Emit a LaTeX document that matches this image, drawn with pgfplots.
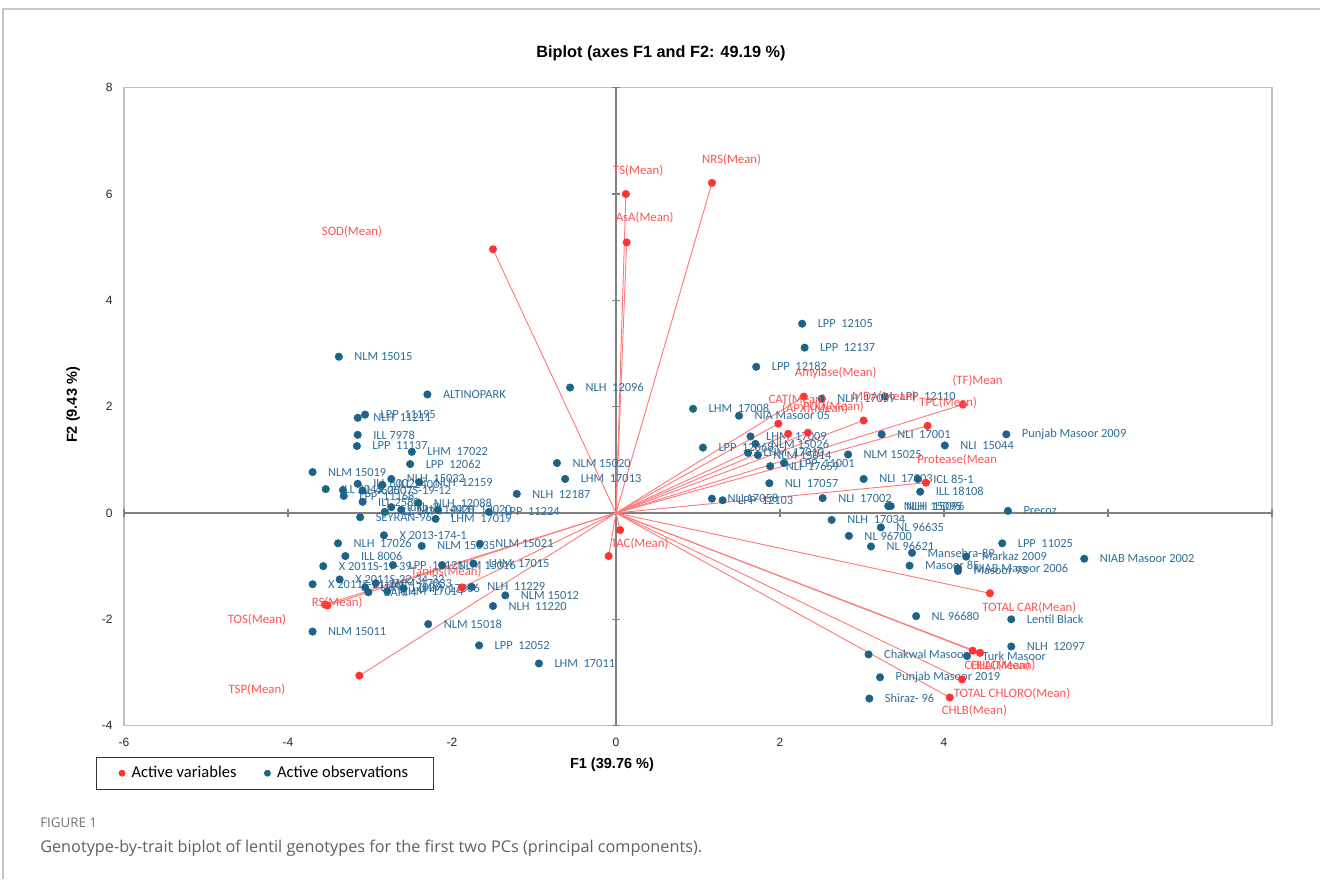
\documentclass[border=0pt]{standalone}
\usepackage{pgfplots}
\pgfplotsset{compat=1.18}
\usepackage{pgfplotstable}
\usepackage{fontspec}
\setmainfont{Liberation Sans}
\newfontfamily\carlito{Carlito}
\newfontfamily\opensans{Open Sans}
\definecolor{obsdot}{HTML}{1E6387}
\definecolor{obstext}{HTML}{2F6F98}
\definecolor{vardot}{HTML}{FF3333}
\definecolor{vartext}{HTML}{FF5252}
\definecolor{varline}{HTML}{FF7B7B}
\definecolor{axgray}{HTML}{808080}
\definecolor{boxgray}{HTML}{C0C0C0}

\pgfplotstableread[col sep=comma]{
o,x,y
0,-1.50,4.96
0,0.12,6.00
0,0.13,5.09
0,1.17,6.21
0,2.29,2.19
0,1.98,1.68
0,2.10,1.49
0,2.34,1.51
0,3.02,1.74
0,4.23,2.04
0,3.80,1.64
0,3.78,0.57
0,0.05,-0.32
0,-0.09,-0.81
0,-1.88,-1.40
0,-3.52,-1.74
0,-3.55,-1.72
0,-3.13,-3.06
0,4.56,-1.51
0,4.35,-2.59
0,4.44,-2.63
0,4.22,-3.13
0,4.07,-3.47
}\vars

\pgfplotstableread[col sep=comma]{
lx,ly,label
-3.22,5.30,SOD(Mean)
0.27,6.43,TS(Mean)
0.35,5.55,AsA(Mean)
1.41,6.64,NRS(Mean)
2.68,2.64,Amylase(Mean)
2.21,2.13,CAT(Mean)
2.43,1.96,(APX)(Mean)
2.65,2.00,POD(Mean)
3.27,2.19,MDA(Mean)
4.41,2.49,(TF)Mean
4.05,2.08,TPC(Mean)
4.16,1.00,Protease(Mean
0.29,-0.57,TAC(Mean)
-2.07,-1.11,Tanins(Mean)
-3.40,-1.68,RS(Mean)
-4.38,-2.00,TOS(Mean)
-4.38,-3.32,TSP(Mean)
5.04,-1.79,TOTAL CAR(Mean)
4.65,-2.87,CHLA(Mean)
4.72,-2.87,CHLC(Mean)
4.83,-3.40,TOTAL CHLORO(Mean)
4.37,-3.72,CHLB(Mean)
}\varlabels

\pgfplotstableread[col sep=comma]{
x,y,label
-3.38,2.94,NLM 15015
-2.30,2.23,ALTINOPARK
-3.06,1.85,LPP\space\space 11195
-3.15,1.79,NLH\space\space 11211
-3.15,1.47,ILL 7978
-3.16,1.26,LPP\space\space 11137
-2.49,1.15,LHM\space\space 17022
-2.51,0.92,LPP\space\space 12062
-3.70,0.77,NLM 15019
-3.54,0.45,ILL 2045
-3.33,0.43,ILL 4605
-3.32,0.32,LPP\space\space 11168
-3.09,0.42,X 2007S-19-12
-3.15,0.55,ILL 6002
-2.85,0.53,ILL 2400
-2.74,0.64,NLH\space\space 15032
-2.40,0.58,NLH\space\space 12159
-3.09,0.21,ILL 2580
-2.74,0.11,Idlib-2
-2.41,0.19,NLH\space\space 12088
-2.82,0.02,ILL 1494
-2.62,0.06,NLH\space\space 14020
-2.17,0.06,NLH\space\space 12020
-2.20,-0.11,LHM\space\space 17019
-1.55,0.02,LPP\space\space 11224
-3.12,-0.08,SEYRAN-96
-1.21,0.36,NLH\space\space 12187
-0.72,0.94,NLM 15020
-0.62,0.64,LHM\space\space 17013
-0.56,2.36,NLH\space\space 12096
-2.83,-0.42,X 2013-174-1
-3.39,-0.57,NLH\space\space 17026
-2.37,-0.62,NLM 15035
-1.66,-0.58,NLM 15021
-3.30,-0.81,ILL 8006
-3.57,-1.00,X 2011S-19-39
-2.72,-0.98,LPP\space\space 11121
-2.12,-0.98,NLM 15016
-1.74,-0.95,LHM\space\space 17015
-3.70,-1.34,X 2011S-21-26
-3.37,-1.25,X 2011S-22-34-32
-3.06,-1.40,LHM\space\space 17029
-3.02,-1.49,BARI 4
-2.93,-1.32,LHM\space\space 17033
-2.79,-1.47,LHM\space\space 17014
-2.59,-1.42,LHM\space\space 17006
-1.76,-1.39,NLH\space\space 11229
-1.35,-1.55,NLM 15012
-1.50,-1.75,NLH\space\space 11220
-2.29,-2.09,NLM 15018
-1.67,-2.49,LPP\space\space 12052
-0.94,-2.83,LHM\space\space 17011
-3.70,-2.23,NLM 15011
2.27,3.56,LPP\space\space 12105
2.30,3.11,LPP\space\space 12137
1.71,2.75,LPP\space\space 12182
2.51,2.15,NLH\space\space 17059
3.28,2.19,LPP\space\space 12110
0.94,1.96,LHM\space\space 17008
1.50,1.83,NIA Masoor 05
1.64,1.44,LHM\space\space 17009
1.06,1.23,LPP\space\space 12068
1.70,1.30,NLM 15026
1.61,1.13,LHM\space\space 17010
1.73,1.09,NLM 15014
2.05,0.94,LPP\space\space 11001
1.88,0.88,NLI\space\space 17659
2.83,1.10,NLM 15025
3.24,1.48,NLI\space\space 17001
4.01,1.27,NLI\space\space 15044
4.76,1.48,Punjab Masoor 2009
1.87,0.56,NLI\space\space 17057
3.02,0.64,NLI\space\space 17003
3.68,0.64,ICL 85-1
3.71,0.40,ILL 18108
2.52,0.28,NLI\space\space 17002
3.32,0.13,NLH\space\space 15095
3.35,0.13,NLH\space\space 15096
1.17,0.27,NLI 17058
1.30,0.24,LPP\space\space 12103
4.78,0.04,Precoz
4.71,-0.57,LPP\space\space 11025
5.71,-0.86,NIAB Masoor 2002
4.82,-2.00,Lentil Black
4.82,-2.51,NLH\space\space 12097
2.63,-0.13,NLH\space\space 17034
3.23,-0.27,NL 96635
2.84,-0.43,NL 96700
3.11,-0.63,NL 96621
3.61,-0.75,Mansehra-89
4.27,-0.82,Markaz 2009
3.58,-0.99,Masoor 85
4.17,-1.04,NIAB Masoor 2006
4.17,-1.09,Masoor 93
3.66,-1.94,NL 96680
3.08,-2.66,Chakwal Masoor
4.28,-2.69,Turk Masoor
3.22,-3.09,Punjab Masoor 2019
3.09,-3.49,Shiraz- 96
}\obs

\begin{document}
\begin{tikzpicture}[x=0.75pt,y=0.75pt]
\useasboundingbox (0,0) rectangle (1320,879);
\fill[white] (0,0) rectangle (1320,879);
\draw[gray!45, line width=1.4pt] (3,0) -- (3,870) -- (1320,870);
\begin{axis}[
  at={(462pt,274.5pt)}, anchor=origin,
  scale only axis, width=861pt, height=478.5pt,
  xmin=-6, xmax=8, ymin=-4, ymax=8,
  xtick={-6,-4,...,4}, ytick={-4,-2,...,8},
  major tick length=0pt,
  axis line style={draw=boxgray, line width=0.8pt},
  tick label style={font=\fontsize{9}{10}\selectfont, text=black!85},
  /pgf/number format/assume math mode=true,
  xticklabel style={yshift=-6pt},
  yticklabel style={xshift=-5pt},
  clip=false,
  legend image code/.code={\draw[#1] plot coordinates {(0pt,0pt)};},
  legend style={at={(-0.0244,-0.0486)}, anchor=north west, draw=black!80,
    line width=0.7pt, font=\carlito\fontsize{12.4}{14}\selectfont,
    legend columns=2, inner xsep=17pt, inner ysep=5pt,
    /tikz/every odd column/.append style={column sep=3pt},
    /tikz/every even column/.append style={column sep=19pt},
    cells={anchor=west}},
]
\draw[axgray, line width=0.9pt] (axis cs:0,-4) -- (axis cs:0,8);
\draw[axgray, line width=0.9pt] (axis cs:-6,0) -- (axis cs:8,0);
\pgfplotsinvokeforeach{-4,-2,2,4,6,8}{\draw[axgray, line width=0.9pt] (axis cs:-0.05,#1) -- (axis cs:0.05,#1);}
\pgfplotsinvokeforeach{-6,-4,-2,2,4,6,8}{\draw[axgray, line width=0.9pt] (axis cs:#1,-0.07) -- (axis cs:#1,0.07);}

\addlegendimage{only marks, mark=*, mark size=2.2pt, color=vardot}
\addlegendentry{Active variables}
\addlegendimage{only marks, mark=*, mark size=2.2pt, color=obsdot}
\addlegendentry{Active observations}

\addplot[forget plot, varline, line width=0.7pt, mark=none,
  quiver={u=\thisrow{x}, v=\thisrow{y}}] table[x=o, y=o] {\vars};

\addplot[forget plot, only marks, mark=*, mark size=2.8pt, color=obsdot,
  point meta=explicit symbolic, nodes near coords,
  nodes near coords style={anchor=west, xshift=11.5pt, inner sep=0pt, text=obstext,
    font=\carlito\fontsize{9.3}{10}\selectfont}]
  table[x=x, y=y, meta=label] {\obs};

\addplot[forget plot, only marks, mark=*, mark size=2.8pt, color=vardot] table[x=x, y=y] {\vars};

\addplot[forget plot, only marks, mark=none, color=vartext,
  point meta=explicit symbolic, nodes near coords,
  nodes near coords style={anchor=center, inner sep=0pt, text=vartext,
    font=\carlito\fontsize{9.6}{10}\selectfont}]
  table[x=lx, y=ly, meta=label] {\varlabels};
\end{axis}
\node[font=\bfseries\fontsize{12.2}{14}\selectfont] at (661,826) {Biplot (axes F1 and F2: 49.19 \%)};
\node[font=\bfseries\fontsize{10.9}{12}\selectfont] at (612,114) {F1 (39.76 \%)};
\node[font=\bfseries\fontsize{10.9}{12}\selectfont, rotate=90] at (73,474) {F2 (9.43 \%)};
\node[anchor=west, inner sep=0pt, font=\opensans\fontsize{10}{12}\selectfont, text=black!55] at (40,56) {FIGURE 1};
\node[anchor=west, inner sep=0pt, font=\opensans\fontsize{12.2}{14}\selectfont, text=black!62] at (40,31) {Genotype-by-trait biplot of lentil genotypes for the first two PCs (principal components).};
\end{tikzpicture}
\end{document}
